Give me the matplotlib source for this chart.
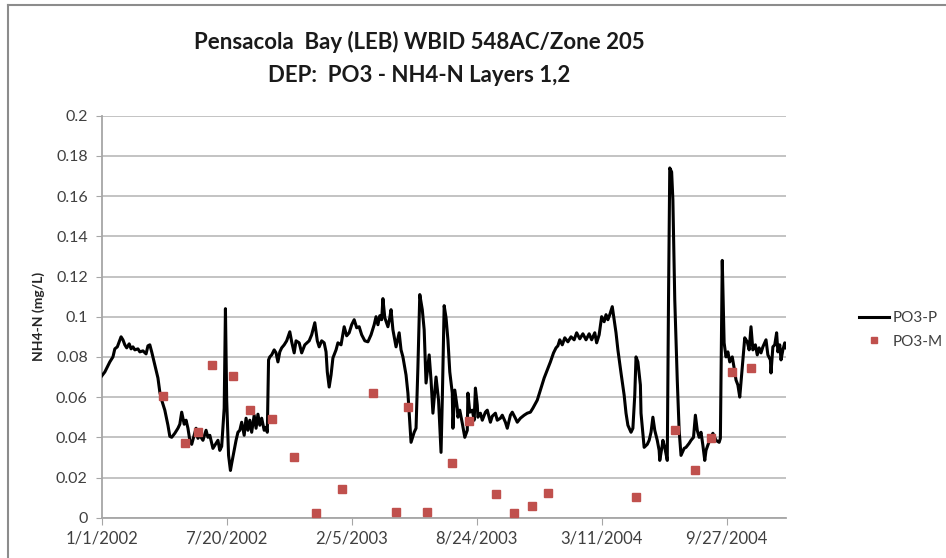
import numpy as np
import matplotlib
matplotlib.use("Agg")
import matplotlib.pyplot as plt
import matplotlib.dates as mdates
from matplotlib.lines import Line2D

# PO3-P model series: days after 1/1/2002 and NH4-N (mg/L)
p_days = [0, 5, 13, 18, 21, 25, 28, 31, 34, 37, 40, 44, 47, 50, 53, 58, 61, 66, 71, 74,
          77, 80, 85, 90, 93, 96, 101, 106, 109, 112, 117, 122, 125, 128, 132, 135, 138, 141, 144, 148,
          151, 154, 157, 162, 167, 170, 173, 178, 183, 186, 189, 192, 196, 198, 200, 203, 206, 208, 212, 215,
          218, 221, 224, 228, 231, 234, 237, 240, 244, 247, 250, 253, 256, 260, 263, 265, 267, 269, 272, 276,
          279, 282, 285, 288, 292, 296, 301, 304, 308, 311, 316, 320, 325, 332, 336, 341, 345, 348, 352, 356,
          359, 361, 364, 367, 370, 375, 378, 383, 388, 392, 396, 400, 404, 408, 412, 416, 421, 426, 431, 436,
          439, 442, 445, 448, 450, 453, 458, 461, 463, 466, 471, 476, 479, 482, 487, 490, 495, 500, 503, 506,
          509, 513, 516, 519, 524, 527, 530, 535, 539, 543, 545, 548, 551, 554, 557, 561, 562, 565, 569, 570,
          573, 577, 581, 585, 586, 589, 593, 596, 598, 601, 602, 606, 609, 614, 617, 622, 625, 630, 633, 638,
          641, 646, 649, 654, 657, 662, 665, 670, 676, 681, 686, 690, 697, 702, 708, 713, 718, 723, 727, 730,
          733, 737, 741, 746, 751, 756, 760, 765, 770, 775, 780, 784, 789, 792, 796, 800, 804, 807, 810, 813,
          817, 820, 823, 826, 831, 836, 839, 842, 847, 850, 853, 855, 858, 862, 863, 868, 873, 876, 879, 882,
          885, 889, 892, 893, 897, 898, 901, 905, 907, 909, 912, 914, 917, 921, 924, 927, 932, 935, 940, 943,
          947, 950, 953, 956, 959, 962, 965, 967, 971, 975, 978, 983, 988, 990, 993, 994, 996, 999, 1002, 1005,
          1009, 1012, 1015, 1018, 1021, 1025, 1028, 1029, 1033, 1036, 1039, 1042, 1046, 1049, 1052, 1055, 1058, 1063, 1066, 1070,
          1071, 1074, 1077, 1080, 1082, 1085, 1087, 1090, 1093, 1095]
p_vals = [0.0705, 0.0725, 0.0775, 0.080, 0.084, 0.085, 0.0875, 0.090, 0.0885, 0.086, 0.0845, 0.0865, 0.084, 0.085, 0.0835, 0.084, 0.0825, 0.083, 0.0815, 0.0855,
          0.086, 0.0825, 0.076, 0.0695, 0.0625, 0.0585, 0.0535, 0.046, 0.0405, 0.040, 0.042, 0.0445, 0.0465, 0.0525, 0.0465, 0.0485, 0.0445, 0.0385, 0.0365, 0.041,
          0.0445, 0.0395, 0.041, 0.0385, 0.0435, 0.040, 0.041, 0.0345, 0.037, 0.0385, 0.0335, 0.0355, 0.0545, 0.104, 0.0585, 0.031, 0.0235, 0.027, 0.0335, 0.0385,
          0.0425, 0.0435, 0.0475, 0.041, 0.0495, 0.0435, 0.0485, 0.0425, 0.051, 0.0445, 0.0515, 0.046, 0.0495, 0.0435, 0.045, 0.0425, 0.0785, 0.080, 0.081, 0.0835,
          0.082, 0.0775, 0.0825, 0.0845, 0.086, 0.088, 0.0925, 0.0875, 0.082, 0.088, 0.087, 0.082, 0.086, 0.088, 0.091, 0.097, 0.088, 0.085, 0.088, 0.087,
          0.0825, 0.0725, 0.065, 0.071, 0.0795, 0.0835, 0.087, 0.086, 0.095, 0.0905, 0.092, 0.096, 0.0985, 0.0945, 0.095, 0.091, 0.088, 0.0875, 0.091, 0.096,
          0.100, 0.096, 0.1005, 0.0985, 0.109, 0.0995, 0.095, 0.0995, 0.1035, 0.0935, 0.085, 0.092, 0.0835, 0.080, 0.071, 0.062, 0.0375, 0.0425, 0.0445, 0.075,
          0.111, 0.1035, 0.0935, 0.067, 0.081, 0.0685, 0.052, 0.070, 0.0585, 0.0325, 0.0585, 0.1055, 0.0995, 0.0885, 0.0725, 0.062, 0.0445, 0.0635, 0.0545, 0.050,
          0.0535, 0.047, 0.040, 0.0435, 0.062, 0.0525, 0.0535, 0.0485, 0.0645, 0.056, 0.050, 0.052, 0.0485, 0.0525, 0.0535, 0.0475, 0.0505, 0.052, 0.0485, 0.0495,
          0.051, 0.0475, 0.0445, 0.051, 0.0525, 0.0495, 0.0475, 0.0495, 0.051, 0.052, 0.0525, 0.0545, 0.0585, 0.0635, 0.0695, 0.0735, 0.0775, 0.082, 0.0845, 0.0855,
          0.0885, 0.086, 0.0895, 0.0875, 0.090, 0.0885, 0.092, 0.089, 0.0915, 0.0885, 0.0915, 0.0885, 0.092, 0.087, 0.091, 0.100, 0.0975, 0.101, 0.0985, 0.101,
          0.105, 0.0985, 0.092, 0.0835, 0.072, 0.061, 0.052, 0.046, 0.0425, 0.0445, 0.061, 0.080, 0.0775, 0.066, 0.052, 0.035, 0.0365, 0.0385, 0.0425, 0.050,
          0.0435, 0.0385, 0.0335, 0.0285, 0.036, 0.0385, 0.035, 0.0285, 0.1085, 0.174, 0.172, 0.158, 0.1085, 0.0685, 0.0435, 0.031, 0.0345, 0.035, 0.037, 0.0385,
          0.040, 0.051, 0.0435, 0.040, 0.0425, 0.036, 0.0285, 0.0335, 0.037, 0.040, 0.042, 0.0385, 0.0375, 0.0395, 0.128, 0.1135, 0.087, 0.080, 0.0825, 0.0775,
          0.080, 0.0745, 0.0685, 0.066, 0.060, 0.075, 0.086, 0.0895, 0.0875, 0.0835, 0.095, 0.0835, 0.086, 0.081, 0.0845, 0.082, 0.085, 0.0885, 0.081, 0.0785,
          0.072, 0.085, 0.086, 0.092, 0.0825, 0.086, 0.0785, 0.0835, 0.087, 0.0845]

# PO3-M measured samples
m_days = [98, 133, 154, 176, 210, 237, 272, 308, 343, 384, 434, 471, 490, 520, 560, 588, 631,
          660, 688, 714, 855, 917, 949, 975, 1008, 1039]
m_vals = [0.0605, 0.037, 0.0428, 0.076, 0.0705, 0.0536, 0.049, 0.030, 0.0023, 0.0143, 0.062,
          0.0028, 0.055, 0.0028, 0.0272, 0.048, 0.0118, 0.0023, 0.0058, 0.0123, 0.0103, 0.0436,
          0.0237, 0.0397, 0.0725, 0.0745]

start = np.datetime64('2002-01-01')
p_dates = (start + np.array(p_days, dtype='timedelta64[D]')).astype('datetime64[s]').astype(object)
m_dates = (start + np.array(m_days, dtype='timedelta64[D]')).astype('datetime64[s]').astype(object)
tick_dates = (start + np.arange(0, 1001, 200).astype('timedelta64[D]')).astype('datetime64[s]').astype(object)

plt.rcParams['font.family'] = ['Lato', 'DejaVu Sans']

fig = plt.figure(figsize=(9.46, 5.58), dpi=100)
ax = fig.add_axes([101.7 / 946, 1 - 517.7 / 558, (786 - 101.7) / 946, (517.7 - 115.7) / 558])

ax.plot(p_dates, p_vals, color='black', lw=2.2, label='PO3-P', zorder=3)
ax.plot(m_dates, m_vals, ls='none', marker='s', ms=5.5, color='#C0504D', mec='#C0504D',
        label='PO3-M', zorder=4)

ax.set_ylim(0, 0.2)
ax.set_yticks(np.arange(0, 0.201, 0.02))
ax.set_yticklabels(['0', '0.02', '0.04', '0.06', '0.08', '0.1', '0.12', '0.14', '0.16', '0.18', '0.2'])
ax.set_xlim(mdates.date2num(tick_dates[0]), mdates.date2num(tick_dates[0]) + 1095)
ax.set_xticks(tick_dates)
ax.xaxis.set_major_formatter(plt.FuncFormatter(
    lambda v, pos: (lambda d: f"{d.month}/{d.day}/{d.year}")(mdates.num2date(v))))

ax.grid(axis='y', color='#BEBEBE', lw=1.3)
ax.set_axisbelow(True)
for s in ['top', 'right']:
    ax.spines[s].set_visible(False)
for s in ['left', 'bottom']:
    ax.spines[s].set_color('#A6A6A6')
    ax.spines[s].set_linewidth(1.3)
ax.tick_params(axis='y', length=4, color='#A6A6A6', labelsize=11.5, labelcolor='#404040', pad=6)
ax.tick_params(axis='x', length=5, color='#A6A6A6', labelsize=12, labelcolor='#404040', pad=4)

ax.set_ylabel('NH4-N (mg/L)', fontsize=10, fontweight='bold', color='#262626', labelpad=8)

fig.text(0.443, 0.925, 'Pensacola  Bay (LEB) WBID 548AC/Zone 205', ha='center', va='center',
         fontsize=16, fontweight='bold', color='#1a1a1a')
fig.text(0.443, 0.864, 'DEP:  PO3 - NH4-N Layers 1,2', ha='center', va='center',
         fontsize=16, fontweight='bold', color='#1a1a1a')

leg = ax.legend(loc='center left', bbox_to_anchor=(851 / 946, 1 - 330 / 558), bbox_transform=fig.transFigure,
                frameon=False, fontsize=11, handlelength=2.0, handletextpad=0.2, labelspacing=0.6,
                borderpad=0, labelcolor='#404040', markerscale=0.8)

# chart border (top and left edges)
fig.add_artist(Line2D([8 / 946, 8 / 946], [0, 1 - 5 / 558], transform=fig.transFigure, color='#8C8C8C', lw=1.5))
fig.add_artist(Line2D([8 / 946, 1], [1 - 5 / 558, 1 - 5 / 558], transform=fig.transFigure, color='#8C8C8C', lw=1.5))

fig.savefig('out.png', dpi=100)
